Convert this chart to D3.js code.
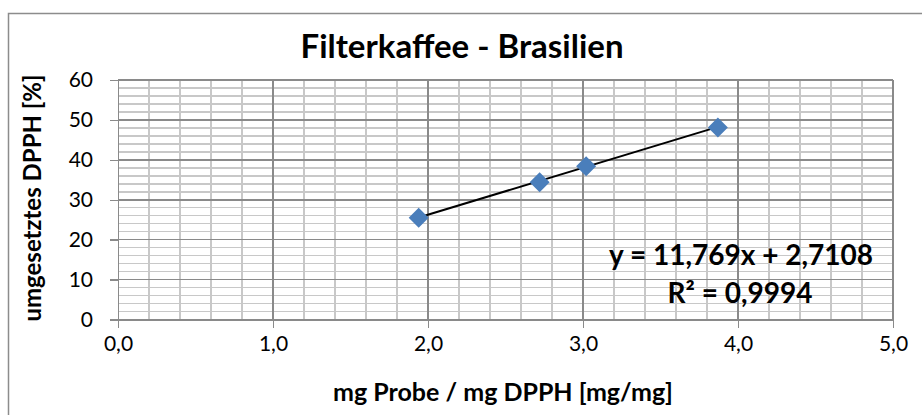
<!DOCTYPE html>
<html lang="de">
<head>
<meta charset="UTF-8">
<title>Filterkaffee - Brasilien</title>
<script src="https://d3js.org/d3.v7.min.js"></script>
<style>
  body { margin: 0; padding: 0; background: #fff; }
  svg { display: block; font-family: Lato, "Open Sans", sans-serif; }
  .tick text { fill: #000; }
</style>
</head>
<body>
<svg id="chart"></svg>
<script>
const probeMg = [1.94, 2.72, 3.02, 3.87];
const dpphUmsatz = [25.5, 34.4, 38.4, 48.1];
// Trendlinie laut Beschriftung
const slope = 11.769;
const intercept = 2.7108;
const rSquared = 0.9994;
const xTicks = [0, 1, 2, 3, 4, 5];
const yTicks = [0, 10, 20, 30, 40, 50, 60];

const W = 922, H = 415;
const margin = { top: 80, right: 29, bottom: 95.5, left: 118 };

const svg = d3.select("#chart").attr("width", W).attr("height", H);

// Rahmen um das Diagramm
svg.append("rect")
  .attr("x", 8.5).attr("y", 13.5)
  .attr("width", W + 20).attr("height", H + 20)
  .attr("fill", "#fff")
  .attr("stroke", "#8c8c8c")
  .attr("stroke-width", 1.5);

const x = d3.scaleLinear().domain([0, 5]).range([margin.left, W - margin.right]);
const y = d3.scaleLinear().domain([0, 60]).range([H - margin.bottom, margin.top]);

const fmt = d => d3.format(".1f")(d).replace(".", ",");

// Hilfslinien (klein)
const grid = svg.append("g").attr("shape-rendering", "crispEdges");
grid.selectAll(".xminor")
  .data(d3.range(0, 25).map(i => i * 0.2).filter((d, i) => i % 5 !== 0))
  .join("line")
  .attr("x1", d => x(d)).attr("x2", d => x(d))
  .attr("y1", y(0)).attr("y2", y(60))
  .attr("stroke", "#c8c8c8").attr("stroke-width", 1.5);
grid.selectAll(".yminor")
  .data(d3.range(0, 30).map(i => i * 2).filter((d, i) => i % 5 !== 0))
  .join("line")
  .attr("x1", x(0)).attr("x2", x(5))
  .attr("y1", d => y(d)).attr("y2", d => y(d))
  .attr("stroke", "#c8c8c8").attr("stroke-width", 1.5);
// Hauptgitter
grid.selectAll(".xmajor")
  .data(xTicks.slice(1))
  .join("line")
  .attr("x1", d => x(d)).attr("x2", d => x(d))
  .attr("y1", y(0)).attr("y2", y(60))
  .attr("stroke", "#8a8a8a").attr("stroke-width", 1.5);
grid.selectAll(".ymajor")
  .data(yTicks.slice(1))
  .join("line")
  .attr("x1", x(0)).attr("x2", x(5))
  .attr("y1", d => y(d)).attr("y2", d => y(d))
  .attr("stroke", "#8a8a8a").attr("stroke-width", 1.5);

// Achsen
const xAxis = svg.append("g")
  .attr("transform", `translate(0,${y(0)})`)
  .call(d3.axisBottom(x).tickValues(xTicks).tickFormat(fmt).tickSize(8).tickSizeOuter(0).tickPadding(9));
const yAxis = svg.append("g")
  .attr("transform", `translate(${x(0)},0)`)
  .call(d3.axisLeft(y).tickValues(yTicks).tickSize(8).tickSizeOuter(0).tickPadding(17));
[xAxis, yAxis].forEach(a => {
  a.attr("shape-rendering", "crispEdges");
  a.selectAll("path, line").attr("stroke", "#8a8a8a").attr("stroke-width", 1.5);
  a.selectAll("text").style("font-size", "21px").style("font-family", "Lato, sans-serif");
});

// Trendlinie
const xMin = d3.min(probeMg), xMax = d3.max(probeMg);
svg.append("line")
  .attr("x1", x(xMin)).attr("y1", y(slope * xMin + intercept))
  .attr("x2", x(xMax)).attr("y2", y(slope * xMax + intercept))
  .attr("stroke", "#000").attr("stroke-width", 2);

// Messpunkte als Rauten
const pts = probeMg.map((v, i) => [v, dpphUmsatz[i]]);
svg.selectAll(".pt")
  .data(pts)
  .join("path")
  .attr("class", "pt")
  .attr("d", "M0,-10L10,0L0,10L-10,0Z")
  .attr("transform", d => `translate(${x(d[0])},${y(d[1])})`)
  .attr("fill", "#4a7ebb");

// Gleichung
const eq = svg.append("g").attr("font-weight", "bold").attr("text-anchor", "middle")
  .style("font-size", "28px");
eq.append("text").attr("x", 741).attr("y", 265)
  .text(`y = ${String(slope).replace(".", ",")}x + ${String(intercept).replace(".", ",")}`);
eq.append("text").attr("x", 740).attr("y", 303)
  .text(`R² = ${String(rSquared).replace(".", ",")}`);

// Titel
svg.append("text")
  .attr("x", 462).attr("y", 58)
  .attr("text-anchor", "middle")
  .attr("font-weight", "bold")
  .style("font-size", "33px")
  .text("Filterkaffee - Brasilien");

// Achsentitel
svg.append("text")
  .attr("x", 503).attr("y", 401)
  .attr("text-anchor", "middle")
  .attr("font-weight", "bold")
  .style("font-size", "25px")
  .text("mg Probe / mg DPPH [mg/mg]");
svg.append("text")
  .attr("transform", "translate(41,198) rotate(-90)")
  .attr("text-anchor", "middle")
  .attr("font-weight", "bold")
  .style("font-size", "24px")
  .text("umgesetztes DPPH [%]");
</script>
</body>
</html>
